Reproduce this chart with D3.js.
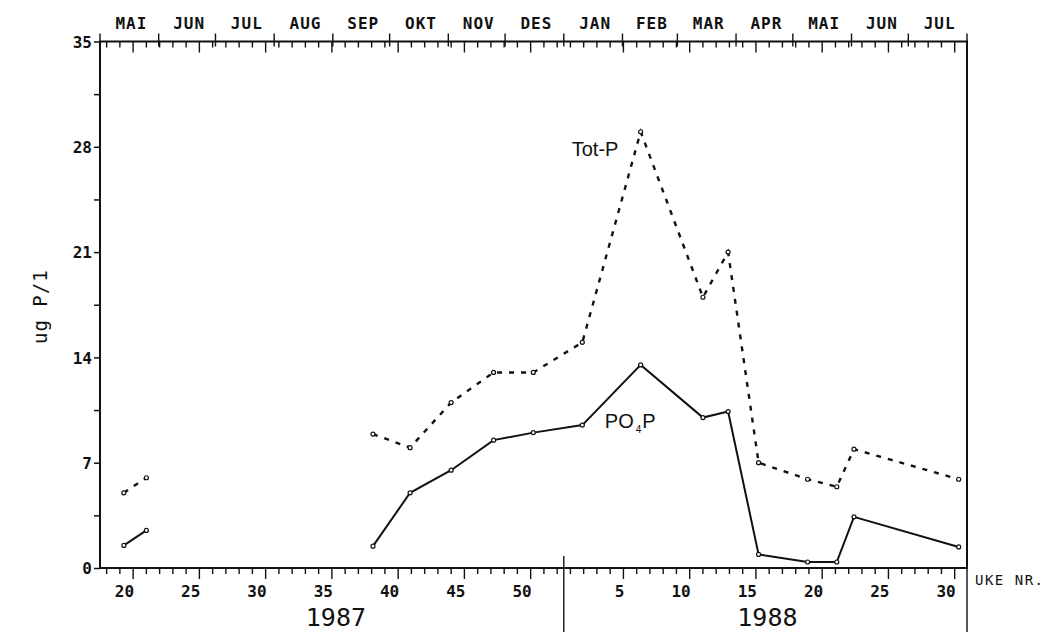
<!DOCTYPE html>
<html>
<head>
<meta charset="utf-8">
<script src="https://cdn.jsdelivr.net/npm/d3@7"></script>
<style>
  body { margin: 0; background: #fff; }
  svg { display: block; }
  text { fill: #111; }
  .tick-lbl { font-family: "DejaVu Sans Mono", monospace; font-weight: bold; font-size: 16px; }
  .month-lbl { font-family: "DejaVu Sans Mono", monospace; font-weight: bold; font-size: 16px; letter-spacing: 1px; }
  .year-lbl { font-family: "DejaVu Sans Mono", monospace; font-size: 25px; }
  .annot { font-family: "Liberation Sans", Arial, sans-serif; font-size: 20px; }
</style>
</head>
<body>
<div id="chart"></div>
<script>
// sample weeks, running week number (1988 weeks continue after week 52 of 1987)
var sampleWeek = [19.3, 21.0, 38.1, 40.9, 44.0, 47.2, 50.2, 53.9, 58.3, 63.0, 64.9, 67.2, 70.9, 73.1, 74.4, 82.3];
var totP = [5.0, 6.0, 8.9, 8.0, 11.0, 13.0, 13.0, 15.0, 29.0, 18.0, 21.0, 7.0, 5.9, 5.4, 7.9, 5.9];
var po4P = [1.5, 2.5, 1.45, 5.0, 6.5, 8.5, 9.0, 9.5, 13.5, 10.0, 10.4, 0.9, 0.4, 0.4, 3.4, 1.4];

var monthNames = ["MAI", "JUN", "JUL", "AUG", "SEP", "OKT", "NOV", "DES", "JAN", "FEB", "MAR", "APR", "MAI", "JUN", "JUL"];
var yTicks = [0, 7, 14, 21, 28, 35];
var years = ["1987", "1988"];
var weeksIn1987 = 52;

var width = 1046, height = 632;
var margin = {top: 41.5, right: 79, bottom: 64, left: 100};
var w = width - margin.left - margin.right,
    h = height - margin.top - margin.bottom;

var startDate = new Date(1987, 4, 1), endDate = new Date(1988, 7, 1);
var startWeek = 17.5;
function dateToWeek(d) { return startWeek + d3.timeDay.count(startDate, d) / 7; }

var svg = d3.select("#chart")
  .append("svg")
    .attr("width", width)
    .attr("height", height)
  .append("g")
    .attr("transform", "translate(" + margin.left + "," + margin.top + ")");

var x = d3.scaleLinear()
  .domain([startWeek, dateToWeek(endDate)])
  .range([0, w]);
var y = d3.scaleLinear()
  .domain([0, 35])
  .range([h, 0]);

// frame
svg.append("rect")
  .attr("width", w).attr("height", h)
  .attr("fill", "none").attr("stroke", "#111").attr("stroke-width", 2);

// left axis
var yAxis = d3.axisLeft(y)
  .tickValues(d3.range(0, 35.01, 3.5))
  .tickSize(6)
  .tickFormat(function(d) { return yTicks.indexOf(d) >= 0 ? d : ""; });
svg.append("g").call(yAxis)
  .call(function(g) {
    g.select(".domain").remove();
    g.selectAll("line").attr("stroke", "#111").attr("stroke-width", 1.5);
    g.selectAll("text").attr("class", "tick-lbl").attr("x", -8).attr("dy", "0.35em");
  });

svg.append("text")
  .attr("class", "year-lbl")
  .attr("transform", "translate(" + (-60) + "," + (h / 2 + 2) + ") rotate(-90)")
  .attr("text-anchor", "middle")
  .attr("dy", "0.35em")
  .style("font-size", "19px")
  .style("letter-spacing", "1px")
  .text("ug P/1");

// bottom week axis
var weekTicks = d3.range(18, 83);
function weekLabel(k) { return k > weeksIn1987 ? k - weeksIn1987 : k; }
var bottomAxis = svg.append("g").attr("transform", "translate(0," + h + ")");
bottomAxis.selectAll("line.wk")
  .data(weekTicks)
  .enter().append("line")
    .attr("x1", function(d) { return x(d); })
    .attr("x2", function(d) { return x(d); })
    .attr("y1", 1)
    .attr("y2", function(d) { return weekLabel(d) % 5 == 0 ? 11 : 6; })
    .attr("stroke", "#111").attr("stroke-width", 1.4);
bottomAxis.selectAll("text.wk")
  .data(weekTicks.filter(function(d) { return weekLabel(d) % 5 == 0; }))
  .enter().append("text")
    .attr("class", "tick-lbl")
    .attr("x", function(d) { return x(d) + 1; })
    .attr("y", 29)
    .attr("text-anchor", "end")
    .text(function(d) { return weekLabel(d); });

// year divider and labels
var yearWeek = dateToWeek(new Date(1988, 0, 1));
svg.append("line")
  .attr("x1", x(yearWeek)).attr("x2", x(yearWeek))
  .attr("y1", h - 12).attr("y2", height - margin.top)
  .attr("stroke", "#111").attr("stroke-width", 1.4);
svg.append("line")
  .attr("x1", w).attr("x2", w)
  .attr("y1", h).attr("y2", height - margin.top)
  .attr("stroke", "#111").attr("stroke-width", 1.4);
svg.selectAll("text.year")
  .data(years)
  .enter().append("text")
    .attr("class", "year-lbl")
    .attr("text-anchor", "middle")
    .attr("x", function(d, i) { return i == 0 ? (x(yearWeek)) / 2 + 4 : (x(yearWeek) + w) / 2 + 2; })
    .attr("y", h + 58)
    .text(function(d) { return d; });

svg.append("text")
  .attr("class", "tick-lbl")
  .attr("x", w + 8)
  .attr("y", h + 17)
  .style("font-weight", "normal")
  .style("font-size", "14px")
  .style("letter-spacing", "1.5px")
  .text("UKE NR.");

// top month axis
var monthStarts = d3.timeMonth.range(startDate, d3.timeDay.offset(endDate, 1)).map(dateToWeek);
var topAxis = svg.append("g");
topAxis.selectAll("line.wk")
  .data(weekTicks)
  .enter().append("line")
    .attr("x1", function(d) { return x(d); })
    .attr("x2", function(d) { return x(d); })
    .attr("y1", 0)
    .attr("y2", function(d) { return weekLabel(d) % 5 == 0 ? 11 : 6; })
    .attr("stroke", "#111").attr("stroke-width", 1.4);
topAxis.selectAll("line.mo")
  .data(monthStarts)
  .enter().append("line")
    .attr("x1", function(d) { return x(d); })
    .attr("x2", function(d) { return x(d); })
    .attr("y1", -8)
    .attr("y2", 5)
    .attr("stroke", "#111").attr("stroke-width", 1.4);
topAxis.selectAll("text.mo")
  .data(monthNames)
  .enter().append("text")
    .attr("class", "month-lbl")
    .attr("text-anchor", "middle")
    .attr("x", function(d, i) { return (x(monthStarts[i]) + x(monthStarts[i + 1])) / 2 + 2; })
    .attr("y", -13)
    .text(function(d) { return d; });

// series
var points = sampleWeek.map(function(wk, i) { return {week: wk, tot: totP[i], po4: po4P[i]}; });
var segments = [[]];
points.forEach(function(p, i) {
  if (i > 0 && p.week - points[i - 1].week > 8) segments.push([]);
  segments[segments.length - 1].push(p);
});

var lineTot = d3.line().x(function(d) { return x(d.week); }).y(function(d) { return y(d.tot); });
var linePo4 = d3.line().x(function(d) { return x(d.week); }).y(function(d) { return y(d.po4); });

segments.forEach(function(seg) {
  svg.append("path").datum(seg)
    .attr("d", lineTot)
    .attr("fill", "none").attr("stroke", "#111")
    .attr("stroke-width", 2.4).attr("stroke-dasharray", "5,7");
  svg.append("path").datum(seg)
    .attr("d", linePo4)
    .attr("fill", "none").attr("stroke", "#111")
    .attr("stroke-width", 2);
});

["tot", "po4"].forEach(function(key) {
  svg.append("g").selectAll("circle")
    .data(points)
    .enter().append("circle")
      .attr("cx", function(d) { return x(d.week); })
      .attr("cy", function(d) { return y(d[key]); })
      .attr("r", 2)
      .attr("fill", "#fff").attr("stroke", "#111").attr("stroke-width", 1.2);
});

// annotations
svg.append("text").attr("class", "annot")
  .attr("x", x(53.1)).attr("y", y(27.4))
  .text("Tot-P");
var po = svg.append("text").attr("class", "annot")
  .attr("x", x(55.6)).attr("y", y(9.3))
  .text("PO");
po.append("tspan").attr("dx", 2).attr("dy", 5).style("font-size", "10px").text("4");
po.append("tspan").attr("dx", 1).attr("dy", -5).text("P");
</script>
</body>
</html>
